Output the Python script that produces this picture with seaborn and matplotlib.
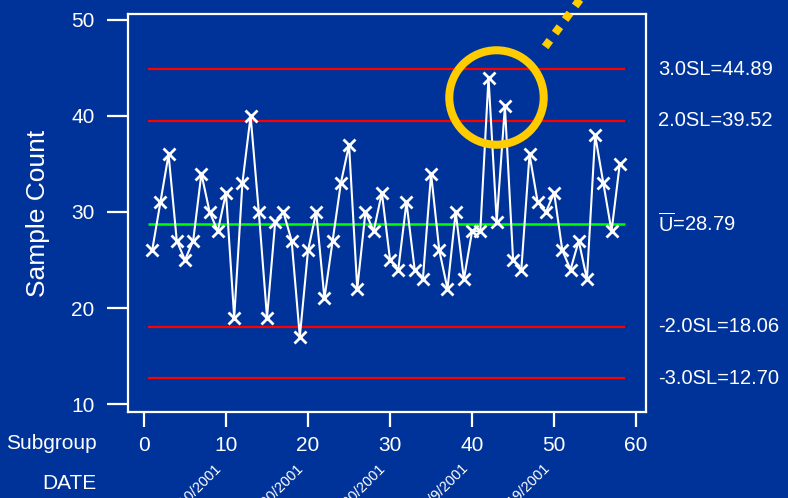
import matplotlib
matplotlib.use("Agg")
from matplotlib import pyplot as plt
from matplotlib import transforms
import seaborn as sns

# data
subgroup = list(range(1, 59))
counts = [26, 31, 36, 27, 25, 27, 34, 30, 28, 32,
          19, 33, 40, 30, 19, 29, 30, 27, 17, 26,
          30, 21, 27, 33, 37, 22, 30, 28, 32, 25,
          24, 31, 24, 23, 34, 26, 22, 30, 23, 28,
          28, 44, 29, 41, 25, 24, 36, 31, 30, 32,
          26, 24, 27, 23, 38, 33, 28, 35]

center_value = 28.79
limit_values = [44.89, 39.52, 18.06, 12.70]
limit_labels = ["3.0SL=44.89", "2.0SL=39.52", "-2.0SL=18.06", "-3.0SL=12.70"]

date_ticks = [10, 20, 30, 40, 50]
date_labels = ["1/10/2001", "1/20/2001", "1/30/2001", "2/9/2001", "2/19/2001"]

# highlight of the out-of-control points
highlight_xy = (42.87, 41.93)
arrow_x = [48.9, 54.4]
arrow_y = [47.2, 53.6]

BG = "#003399"
sns.set_style("white", {"axes.facecolor": BG, "figure.facecolor": BG,
                        "axes.edgecolor": "white"})
plt.rcParams['font.family'] = ['Liberation Sans', 'DejaVu Sans']
plt.rcParams['mathtext.fontset'] = 'custom'
plt.rcParams['mathtext.rm'] = 'Liberation Sans'

fig = plt.figure(figsize=(7.88, 4.98), dpi=100)
ax = fig.add_axes([0.1624, 0.1727, 0.6574, 0.7992])

# control lines
ax.hlines(limit_values, 0.5, 58.6, color="#ff0000", lw=1.6, zorder=2)
ax.hlines(center_value, 0.5, 58.6, color="#00ff00", lw=1.8, zorder=2)

sns.lineplot(x=subgroup, y=counts, ax=ax, color="white", lw=1.5,
             marker="x", markersize=8, markeredgewidth=2,
             markeredgecolor="white", zorder=3)

# yellow ring + dotted pointer
ax.plot(*highlight_xy, marker="o", markersize=68, markerfacecolor="none",
        markeredgecolor="#ffcc00", markeredgewidth=5.8, clip_on=False, zorder=4)
ax.plot(arrow_x, arrow_y, color="#ffcc00", lw=5.8, linestyle=(0, (1, 1.1)),
        dash_capstyle="butt", clip_on=False, zorder=4)

ax.set_xlim(-1.95, 61.2)
ax.set_ylim(9.17, 50.62)
ax.set_xticks(range(0, 61, 10))
ax.set_yticks(range(10, 51, 10))
ax.tick_params(axis="y", colors="white", labelsize=15, length=15, width=1.6, pad=9, left=True)
ax.tick_params(axis="x", colors="white", labelsize=15, length=11, width=1.6, pad=6, bottom=True)
for s in ax.spines.values():
    s.set_color("white")
    s.set_linewidth(1.6)

ax.set_ylabel("Sample Count", color="white", fontsize=19, labelpad=15)

# right-hand limit labels
for v, lab in zip(limit_values, limit_labels):
    ax.text(1.024, v, lab, transform=ax.get_yaxis_transform(), color="white",
            fontsize=14.5, ha="left", va="center", clip_on=False)
ax.text(1.024, center_value, r"$\overline{\mathrm{U}}$=28.79",
        transform=ax.get_yaxis_transform(), color="white",
        fontsize=14.5, ha="left", va="center", clip_on=False)

# date labels under the axis (cut by the figure edge, as in the source)
trans = transforms.blended_transform_factory(ax.transData, ax.transAxes)
for xt, lab in zip(date_ticks, date_labels):
    ax.text(xt - 0.2, -0.123, lab, transform=trans, rotation=45, color="white",
            fontsize=10.5, ha="right", va="top", clip_on=False)

fig.text(0.123, 0.1104, "Subgroup", color="white", fontsize=15, ha="right", va="center")
fig.text(0.123, 0.0301, "DATE", color="white", fontsize=15, ha="right", va="center")

fig.savefig("out.png", dpi=100, facecolor=BG)
